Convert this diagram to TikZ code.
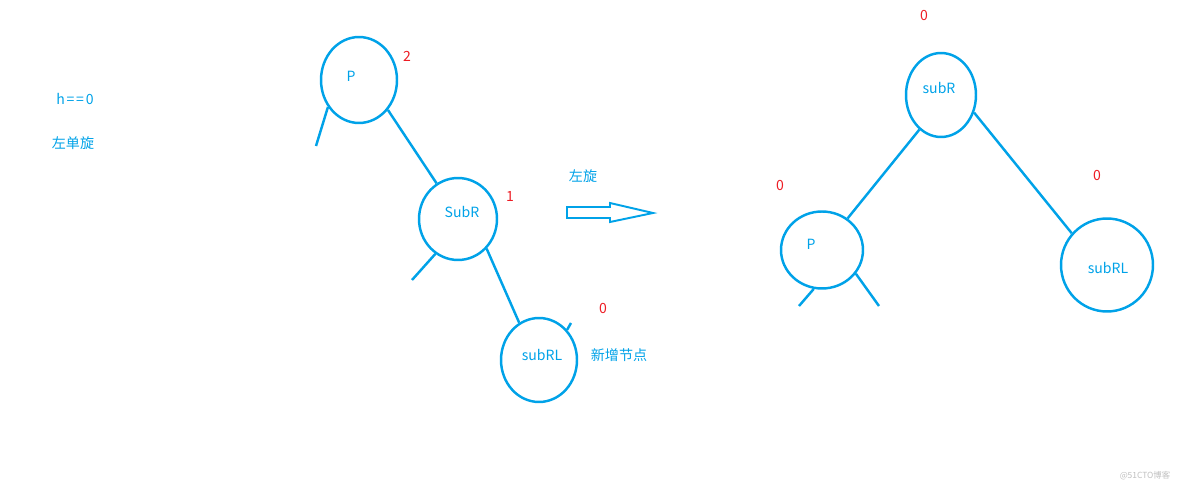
\documentclass[tikz,border=0pt]{standalone}
\usepackage{fontspec}
\setmainfont{Noto Sans CJK SC}
\usetikzlibrary{shapes.geometric}
\definecolor{myblue}{RGB}{0, 162, 232}
\definecolor{myred}{RGB}{237, 28, 36}

\begin{document}
\begin{tikzpicture}[
    x=0.02cm, y=-0.02cm,
    font=\fontsize{8}{10}\selectfont,
    tnode/.style={ellipse, draw=myblue, line width=1.4pt, text=myblue, inner sep=0pt},
    label/.style={text=myblue, inner sep=0pt},
    bal/.style={text=myred, inner sep=0pt},
    edge/.style={draw=myblue, line width=1.4pt}
]
\useasboundingbox (0,0) rectangle (1184,486);

% Left notes
\node[label] (cond) at (75,99) {h\kern1pt=\kern1pt=\kern1pt0};
\node[label] (kind) at (73,143) {左单旋};

% Before rotation
\node[tnode, minimum width=1.52cm, minimum height=1.72cm] (P) at (359,80) {};
\node[label] (Ptext) at (351,76) {P};
\node[bal] (Pbal) at (407,56) {2};

\node[tnode, minimum width=1.56cm, minimum height=1.64cm] (SubR) at (458,219) {};
\node[label] (SubRtext) at (462,212) {SubR};
\node[bal] (SubRbal) at (510,196) {1};

\node[tnode, minimum width=1.52cm, minimum height=1.68cm] (subRL) at (539,360) {};
\node[label] (subRLtext) at (542,355) {subRL};
\node[bal] (subRLbal) at (603,308) {0};
\node[label] (newnode) at (619,355) {新增节点};

\coordinate (Pleft) at (316,146);
\coordinate (SubRleft) at (412,280);
\coordinate (subRLtick) at (571,323);

\draw[edge] (P.-46) -- (SubR.121);
\draw[edge] (SubR.-46) -- (subRL.118);
\draw[edge] (P.-139) -- (Pleft);
\draw[edge] (SubR.-123) -- (SubRleft);
\draw[edge] (subRL.47) -- (subRLtick);

% Rotation arrow
\node[label] (rot) at (583,176) {左旋};
\draw[draw=myblue, line width=1.1pt] (567,207) -- (610,207) -- (610,203) -- (653,213)
    -- (610,222) -- (610,218) -- (567,218) -- cycle;

% After rotation
\node[tnode, minimum width=1.40cm, minimum height=1.68cm] (subR) at (941,95) {};
\node[label] (subRtext) at (939,88) {subR};
\node[bal] (subRbal) at (924,15) {0};

\node[tnode, minimum width=1.64cm, minimum height=1.54cm] (P2) at (822,250) {};
\node[label] (P2text) at (811,244) {P};
\node[bal] (P2bal) at (780,185) {0};

\node[tnode, minimum width=1.84cm, minimum height=1.86cm] (subRL2) at (1107,265) {};
\node[label] (subRL2text) at (1108,268) {subRL};
\node[bal] (subRL2bal) at (1097,175) {0};

\coordinate (P2left) at (799,306);
\coordinate (P2right) at (879,306);

\draw[edge] (subR.-122) -- (P2.51);
\draw[edge] (subR.-28) -- (subRL2.138);
\draw[edge] (P2.-102) -- (P2left);
\draw[edge] (P2.-35) -- (P2right);

% Watermark
\node[text=black!25, inner sep=0pt, font=\fontsize{4.8}{5}\selectfont] (mark) at (1145,476) {@51CTO博客};

\end{tikzpicture}
\end{document}
